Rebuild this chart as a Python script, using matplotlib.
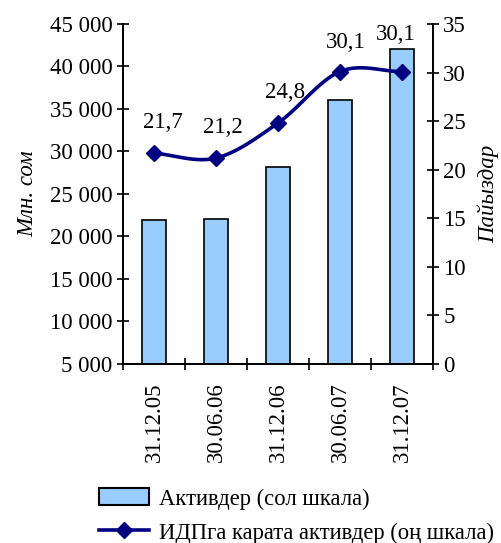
import numpy as np
import matplotlib
matplotlib.use("Agg")
import matplotlib.pyplot as plt
from matplotlib.ticker import FuncFormatter, MultipleLocator
from matplotlib.lines import Line2D
from matplotlib.patches import Patch

plt.rcParams['font.family'] = ['Liberation Serif', 'DejaVu Serif']

dates = ["31.12.05", "30.06.06", "31.12.06", "30.06.07", "31.12.07"]
assets = [21900, 22100, 28200, 36100, 42000]      # млн. сом, left scale
assets_gdp = [21.7, 21.2, 24.8, 30.1, 30.1]       # %, right scale
value_labels = ["21,7", "21,2", "24,8", "30,1", "30,1"]


def smooth(x, y, n=30, t=0.5):
    # Catmull-Rom style smoothing, similar to Excel's smoothed lines
    x = np.asarray(x, float)
    y = np.asarray(y, float)
    px = np.concatenate([[2 * x[0] - x[1]], x, [2 * x[-1] - x[-2]]])
    py = np.concatenate([[2 * y[0] - y[1]], y, [2 * y[-1] - y[-2]]])
    xs, ys = [], []
    for i in range(1, len(px) - 2):
        p0, p1, p2, p3 = [np.array([px[j], py[j]]) for j in range(i - 1, i + 3)]
        c1 = p1 + (p2 - p0) * t / 3
        c2 = p2 - (p3 - p1) * t / 3
        s = np.linspace(0, 1, n)[:, None]
        b = (1 - s) ** 3 * p1 + 3 * (1 - s) ** 2 * s * c1 + 3 * (1 - s) * s ** 2 * c2 + s ** 3 * p2
        xs.extend(b[:, 0])
        ys.extend(b[:, 1])
    return xs, ys


FS = 16.5

fig = plt.figure(figsize=(5.01, 5.43), dpi=100)
ax = fig.add_axes([0.2455, 0.3297, 0.6185, 0.6261])
ax2 = ax.twinx()

x = np.arange(len(dates))
ax.bar(x, np.array(assets) - 5000, bottom=5000, width=0.39,
       color='#99CCFF', edgecolor='black', linewidth=1.2)
ax.set_xlim(-0.5, len(dates) - 0.5)
ax.set_ylim(5000, 45000)
ax.yaxis.set_major_locator(MultipleLocator(5000))
ax.yaxis.set_major_formatter(FuncFormatter(lambda v, p: f"{int(v):,}".replace(",", " ")))
ax.set_xticks(x)
ax.set_xticklabels(dates, rotation=90)
ax.set_xticks(np.arange(-0.5, len(dates)), minor=True)
ax.tick_params(axis='x', which='major', length=0, pad=13, labelsize=FS)
ax.tick_params(axis='x', which='minor', direction='inout', length=9, width=1.2)
ax.tick_params(axis='y', direction='inout', length=9, width=1.2, labelsize=FS, pad=3)
ax.set_ylabel("Млн. сом", style='italic', fontsize=FS, labelpad=8)

sx, sy = smooth(x, assets_gdp)
ax2.plot(sx, sy, color='#000080', linewidth=2.6)
ax2.plot(x, assets_gdp, linestyle='none', marker='D', markersize=8,
         color='#000080')
ax2.set_ylim(0, 35)
ax2.yaxis.set_major_locator(MultipleLocator(5))
ax2.tick_params(axis='y', direction='inout', length=9, width=1.2, labelsize=FS, pad=3)
ax2.set_ylabel("Пайыздар", style='italic', fontsize=FS, rotation=90, labelpad=8)

offsets = [(6.5, 22), (5, 22), (5, 22), (4.5, 21), (-4.5, 27)]
for xi, yi, lab, off in zip(x, assets_gdp, value_labels, offsets):
    ax2.annotate(lab, (xi, yi), xytext=off, textcoords='offset points',
                 ha='center', va='center', fontsize=FS)

for a in (ax, ax2):
    a.spines['top'].set_visible(False)
    for s in ('left', 'right', 'bottom'):
        a.spines[s].set_linewidth(1.3)

handles = [Patch(facecolor='#99CCFF', edgecolor='black', linewidth=1.5),
           Line2D([], [], color='#000080', linewidth=2.6, marker='D', markersize=8)]
fig.legend(handles, ["Активдер (сол шкала)", "ИДПга карата активдер (оң шкала)"],
           loc='upper left', bbox_to_anchor=(0.198, 0.101), frameon=False,
           fontsize=16.3, handlelength=2.2, handleheight=0.8, labelspacing=0.55,
           handletextpad=0.45, borderaxespad=0, borderpad=0)

fig.savefig("out.png", dpi=100)
